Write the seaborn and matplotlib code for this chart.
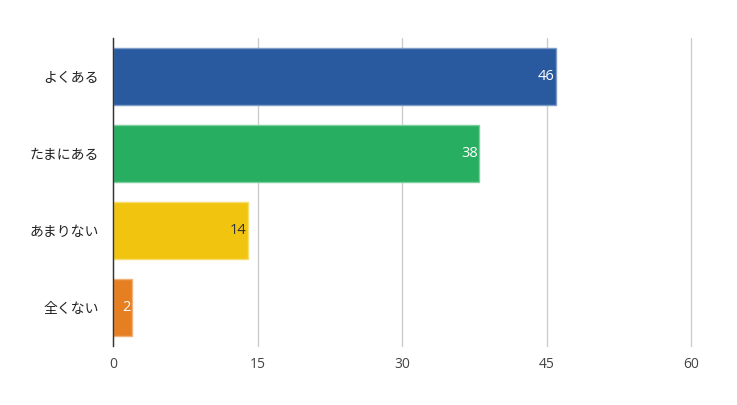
import matplotlib
matplotlib.use("Agg")
import matplotlib.pyplot as plt
import seaborn as sns
import pandas as pd

categories = ["よくある", "たまにある", "あまりない", "全くない"]
values = [46, 38, 14, 2]
colors = ["#295A9F", "#27AE60", "#F1C40F", "#E67E22"]
edge_colors = ["#7F9CC6", "#7DCFA0", "#F7DC6F", "#F0B27A"]
label_colors = ["white", "white", "#333333", "white"]
xticks = [0, 15, 30, 45, 60]

sns.set_theme(style="white")
plt.rcParams['font.family'] = ['Noto Sans CJK JP', 'DejaVu Sans']

df = pd.DataFrame({"cat": categories, "val": values})

fig = plt.figure(figsize=(7.37, 4.05), dpi=100)
ax = fig.add_axes([113/737, 1-346/405, (691-113)/737, (346-38)/405])

sns.barplot(data=df, y="cat", x="val", hue="cat", palette=colors, legend=False,
            width=0.74, ax=ax, orient="h", saturation=1)
for p, ec in zip(ax.patches, edge_colors):
    p.set_edgecolor(ec)
    p.set_linewidth(1)

for i, (v, lc) in enumerate(zip(values, label_colors)):
    ax.text(v - 0.15, i, str(v), ha="right", va="center", color=lc, fontsize=10.5,
            family=['Open Sans', 'DejaVu Sans'])

ax.set_xlim(0, 60)
ax.set_ylim(3.5, -0.5)
ax.set_xticks(xticks)
ax.set_xticklabels([str(t) for t in xticks], color="#444444", fontsize=10,
                   family=['Open Sans', 'DejaVu Sans'])
ax.tick_params(axis='y', labelsize=10, labelcolor="#222222", pad=10, length=0)
ax.tick_params(axis='x', pad=8, length=0)
ax.xaxis.grid(True, color="#cccccc", linewidth=1)
for gl in ax.get_xgridlines():
    gl.set_clip_on(False)
ax.set_axisbelow(True)
ax.set_xlabel("")
ax.set_ylabel("")
for s in ["top", "right", "bottom"]:
    ax.spines[s].set_visible(False)
ax.spines["left"].set_color("#333333")
ax.spines["left"].set_linewidth(1)

fig.savefig("out.png", dpi=100)
